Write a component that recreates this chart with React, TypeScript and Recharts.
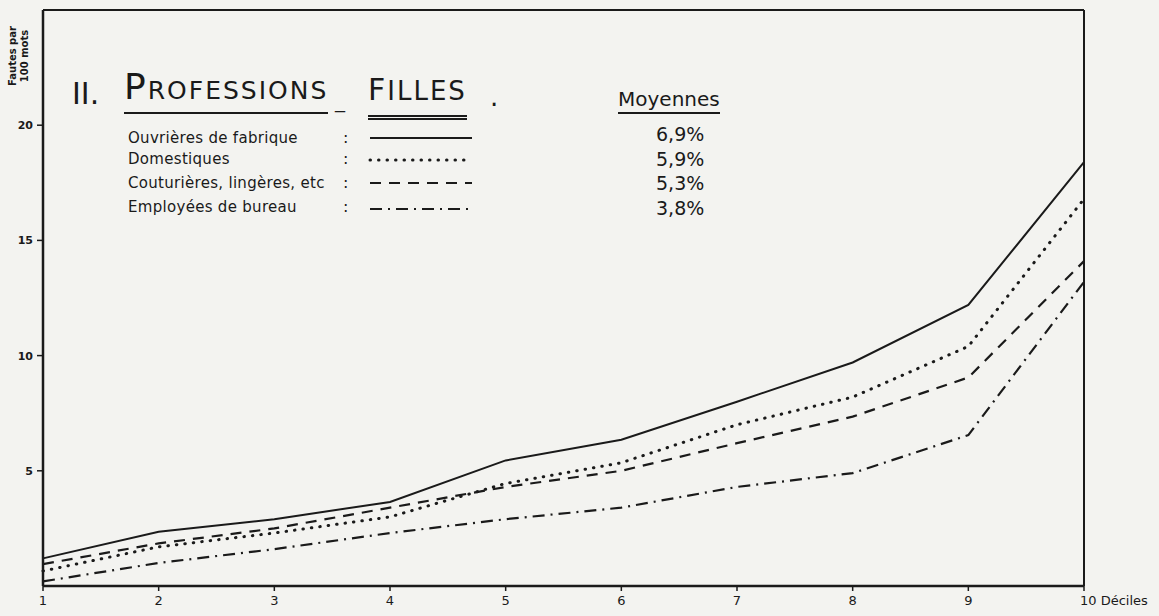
import React from "react";
import { LineChart, Line, XAxis, YAxis, ReferenceLine } from "recharts";

const deciles = [1, 2, 3, 4, 5, 6, 7, 8, 9, 10];
const ouvrieres = [1.2, 2.35, 2.9, 3.65, 5.45, 6.35, 8.0, 9.7, 12.2, 18.4];
const domestiques = [0.65, 1.7, 2.3, 3.0, 4.45, 5.35, 7.0, 8.2, 10.4, 16.8];
const couturieres = [0.95, 1.85, 2.5, 3.4, 4.3, 5.0, 6.2, 7.35, 9.05, 14.1];
const employees = [0.2, 1.0, 1.6, 2.3, 2.9, 3.4, 4.3, 4.9, 6.55, 13.2];

const seriesNames = [
  "Ouvrières de fabrique",
  "Domestiques",
  "Couturières, lingères, etc",
  "Employées de bureau",
];
const moyennes = ["6,9%", "5,9%", "5,3%", "3,8%"];
const yTicks = [5, 10, 15, 20];

const INK = "#1a1a1a";
const FONT = "'DejaVu Sans', sans-serif";

const styles = [
  { key: "ouvrieres", dash: undefined, width: 2, cap: "butt" },
  { key: "domestiques", dash: "0.5 8", width: 3, cap: "round" },
  { key: "couturieres", dash: "11 8", width: 2.2, cap: "butt" },
  { key: "employees", dash: "12 6 2 6", width: 2.2, cap: "butt" },
];

const rows = deciles.map((d, i) => ({
  decile: d,
  ouvrieres: ouvrieres[i],
  domestiques: domestiques[i],
  couturieres: couturieres[i],
  employees: employees[i],
}));

const DecileTick = (props: any) => {
  const { x, y, payload } = props;
  if (payload.value === 10) {
    return (
      <text x={x - 4} y={y} dy={11} textAnchor="start" fill={INK} fontSize={13} fontFamily={FONT}>
        10 Déciles
      </text>
    );
  }
  return (
    <text x={x} y={y} dy={11} textAnchor="middle" fill={INK} fontSize={13} fontFamily={FONT}>
      {payload.value}
    </text>
  );
};

const rowBase = [144, 165, 189, 213];
const sampleY = [138, 160, 183, 209];
const moyBase = [142, 167, 191, 216];

export default function App() {
  return (
    <div
      style={{
        position: "fixed",
        left: 0,
        top: 0,
        width: 1159,
        height: 616,
        background: "#f3f3f0",
        fontFamily: FONT,
        color: INK,
      }}
    >
      <LineChart width={1159} height={616} data={rows} margin={{ top: 10, right: 75, left: 0, bottom: 0 }}>
        <XAxis
          dataKey="decile"
          type="number"
          domain={[1, 10]}
          ticks={deciles}
          height={30}
          stroke={INK}
          strokeWidth={2.5}
          tickSize={5}
          tickMargin={3}
          tick={<DecileTick />}
          tickLine={{ stroke: INK, strokeWidth: 1.5 }}
        />
        <YAxis
          type="number"
          domain={[0, 25]}
          ticks={yTicks}
          width={43}
          stroke={INK}
          strokeWidth={2.5}
          tickSize={6}
          tickMargin={4}
          tick={{ fill: INK, fontSize: 11, fontWeight: "bold", fontFamily: FONT }}
          tickLine={{ stroke: INK, strokeWidth: 1.5 }}
        />
        <ReferenceLine y={25} stroke={INK} strokeWidth={2} />
        <ReferenceLine x={10} stroke={INK} strokeWidth={2} />
        {styles.map((s) => (
          <Line
            key={s.key}
            dataKey={s.key}
            type="linear"
            stroke={INK}
            strokeWidth={s.width}
            strokeDasharray={s.dash}
            strokeLinecap={s.cap as any}
            dot={false}
            activeDot={false}
            isAnimationActive={false}
          />
        ))}
      </LineChart>

      {/* y axis title */}
      <div
        style={{
          position: "absolute",
          left: -26,
          top: 44,
          width: 90,
          transform: "rotate(-90deg)",
          fontSize: 10,
          lineHeight: "12px",
          textAlign: "center",
          fontWeight: "bold",
        }}
      >
        Fautes par
        <br />
        100 mots
      </div>

      {/* title */}
      <div style={{ position: "absolute", left: 72, top: 78, fontSize: 30, lineHeight: "32px" }}>II.</div>
      <div
        style={{
          position: "absolute",
          left: 124,
          top: 70,
          lineHeight: "34px",
          letterSpacing: 2,
          borderBottom: `2px solid ${INK}`,
          paddingBottom: 1,
        }}
      >
        <span style={{ fontSize: 36 }}>P</span>
        <span style={{ fontSize: 25 }}>ROFESSIONS</span>
      </div>
      <div style={{ position: "absolute", left: 335, top: 91, fontSize: 20, lineHeight: "20px" }}>_</div>
      <div
        style={{
          position: "absolute",
          left: 368,
          top: 74,
          lineHeight: "32px",
          letterSpacing: 2,
          borderBottom: `5px double ${INK}`,
          paddingBottom: 4,
        }}
      >
        <span style={{ fontSize: 30 }}>F</span>
        <span style={{ fontSize: 26 }}>ILLES</span>
      </div>
      <div style={{ position: "absolute", left: 490, top: 82, fontSize: 26 }}>.</div>

      {/* legend rows */}
      {seriesNames.map((name, i) => (
        <React.Fragment key={name}>
          <div
            style={{
              position: "absolute",
              left: 128,
              top: rowBase[i] - 15,
              fontSize: 15,
              lineHeight: "18px",
              letterSpacing: 0.3,
              whiteSpace: "nowrap",
            }}
          >
            {name}
          </div>
          <div style={{ position: "absolute", left: 343, top: rowBase[i] - 15, fontSize: 16, lineHeight: "18px" }}>
            :
          </div>
          <svg style={{ position: "absolute", left: 368, top: sampleY[i] - 4 }} width={106} height={8}>
            <line
              x1={2}
              x2={104}
              y1={4}
              y2={4}
              stroke={INK}
              strokeWidth={styles[i].width}
              strokeDasharray={styles[i].dash}
              strokeLinecap={styles[i].cap as any}
            />
          </svg>
        </React.Fragment>
      ))}

      {/* averages */}
      <div
        style={{
          position: "absolute",
          left: 618,
          top: 88,
          fontSize: 20,
          lineHeight: "22px",
          borderBottom: `2px solid ${INK}`,
          paddingBottom: 2,
        }}
      >
        Moyennes
      </div>
      {moyennes.map((m, i) => (
        <div
          key={m}
          style={{
            position: "absolute",
            left: 656,
            top: moyBase[i] - 18,
            fontSize: 19,
            lineHeight: "20px",
            whiteSpace: "nowrap",
          }}
        >
          {m}
        </div>
      ))}
    </div>
  );
}
